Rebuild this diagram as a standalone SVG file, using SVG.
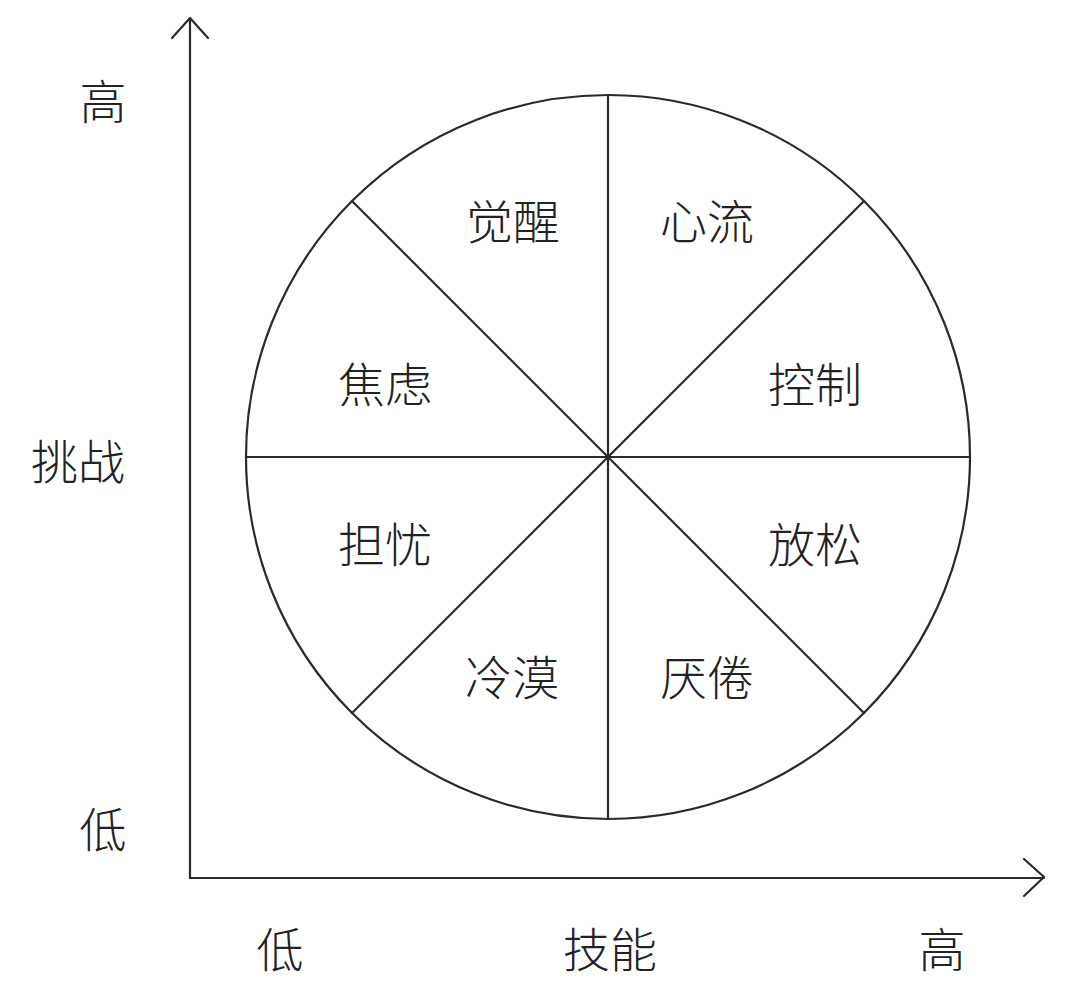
<svg xmlns="http://www.w3.org/2000/svg" width="1080" height="991" viewBox="0 0 1080 991">
<style>
.ln{fill:none;stroke:#2a2a2a;stroke-width:2.2;stroke-linecap:round;stroke-linejoin:round}
text{font-family:"Noto Sans CJK SC","Noto Sans CJK JP",sans-serif;font-size:47px;fill:#222;text-anchor:middle;dominant-baseline:central;font-weight:300}
</style>
<rect width="1080" height="991" fill="#fff"/>
<g id="axes">
<path class="ln" d="M190,878 V18 M172,38 L190,18 L208,38"/>
<path class="ln" d="M190,878 H1044 M1024,859 L1044,877 L1024,896"/>
</g>
<g id="circle">
<circle class="ln" cx="608" cy="457" r="362"/>
</g>
<g id="connectors">
<path class="ln" d="M608,95 V819 M246,457 H970 M352,201 L864,713 M864,201 L352,713"/>
</g>
<g id="axis-labels">
<text x="103" y="98">高</text>
<text x="78" y="458">挑战</text>
<text x="103" y="826">低</text>
<text x="280" y="946">低</text>
<text x="610" y="946">技能</text>
<text x="942" y="946">高</text>
</g>
<g id="node-juexing"><text x="513" y="218">觉醒</text></g>
<g id="node-xinliu"><text x="707" y="218">心流</text></g>
<g id="node-jiaolv"><text x="385" y="381">焦虑</text></g>
<g id="node-kongzhi"><text x="815" y="381">控制</text></g>
<g id="node-danyou"><text x="385" y="541">担忧</text></g>
<g id="node-fangsong"><text x="815" y="541">放松</text></g>
<g id="node-lengmo"><text x="512" y="674">冷漠</text></g>
<g id="node-yanjuan"><text x="707" y="674">厌倦</text></g>
</svg>
